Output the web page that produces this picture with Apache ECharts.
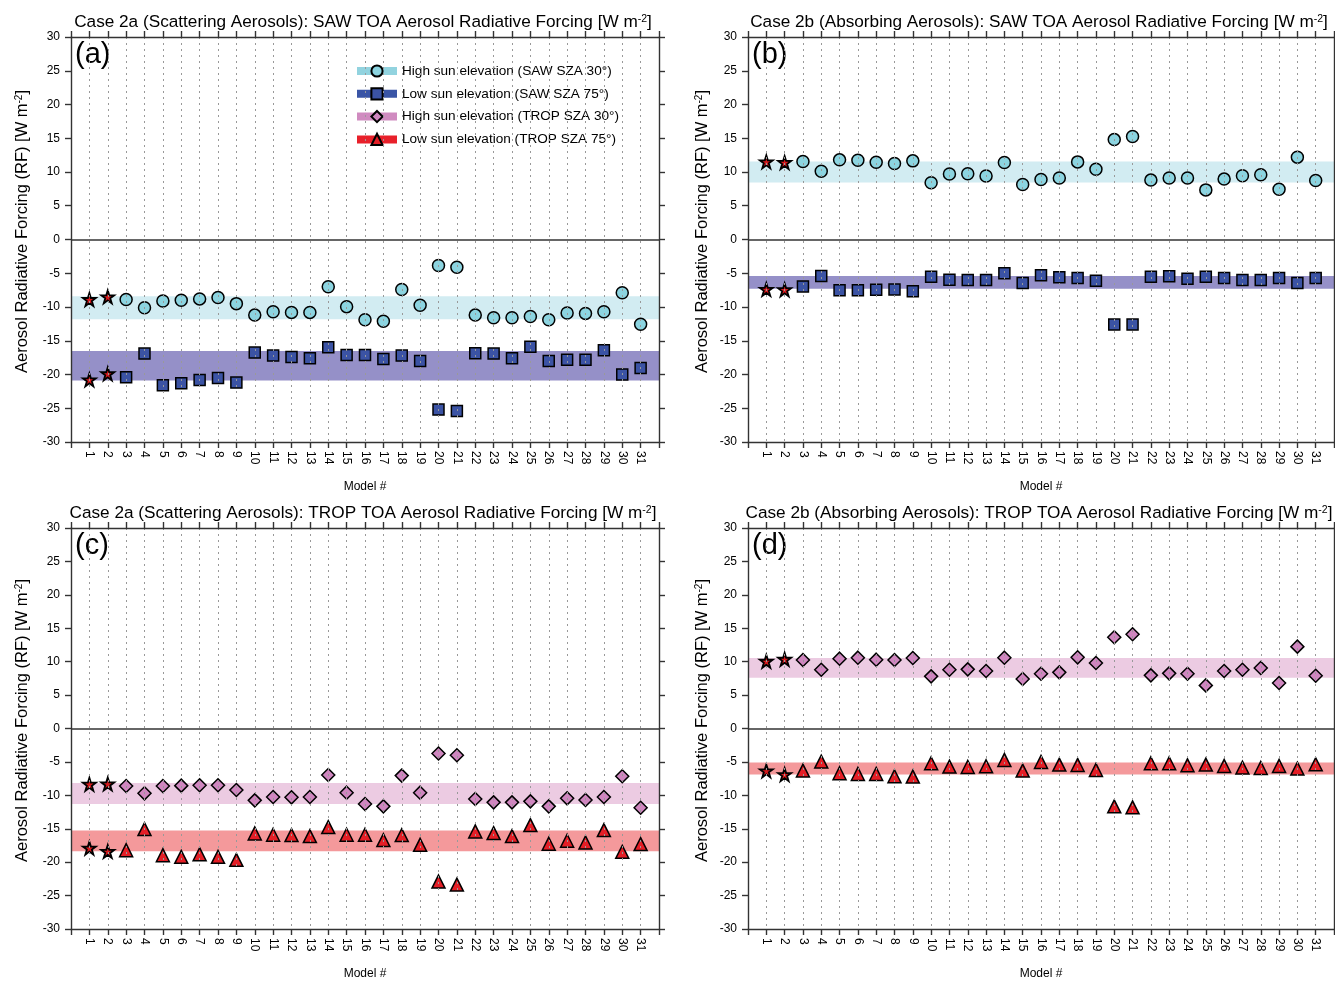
<!DOCTYPE html>
<html><head><meta charset="utf-8">
<script src="https://cdn.jsdelivr.net/npm/echarts@6/dist/echarts.min.js"></script>
<style>html,body{margin:0;padding:0;background:#fff}#c{width:1335px;height:981px}</style>
</head><body><div id="c"></div>
<script>
// ---------- data ----------
const models = [1,2,3,4,5,6,7,8,9,10,11,12,13,14,15,16,17,18,19,20,21,22,23,24,25,26,27,28,29,30,31];
const starModels = [1,2];
const yTicks = [-30,-25,-20,-15,-10,-5,0,5,10,15,20,25,30];

// (a) Case 2a SAW
const saw2aHigh = [-8.9,-8.5,-8.9,-10.1,-9.1,-9.0,-8.8,-8.6,-9.5,-11.2,-10.7,-10.8,-10.8,-7.0,-9.95,-11.9,-12.1,-7.4,-9.75,-3.85,-4.1,-11.2,-11.6,-11.6,-11.4,-11.9,-10.9,-10.95,-10.7,-7.9,-12.55];
const saw2aLow  = [-20.8,-19.9,-20.4,-16.9,-21.6,-21.3,-20.8,-20.5,-21.2,-16.75,-17.2,-17.4,-17.6,-15.95,-17.1,-17.1,-17.7,-17.2,-18.0,-25.2,-25.4,-16.85,-16.9,-17.6,-15.9,-18.0,-17.8,-17.8,-16.4,-20.0,-19.05];
// (b) Case 2b SAW
const saw2bHigh = [11.5,11.4,11.55,10.1,11.8,11.75,11.45,11.25,11.65,8.4,9.7,9.75,9.4,11.4,8.15,8.9,9.1,11.5,10.4,14.8,15.25,8.8,9.1,9.1,7.35,8.95,9.45,9.6,7.45,12.2,8.75];
const saw2bLow  = [-7.4,-7.45,-6.95,-5.4,-7.5,-7.5,-7.45,-7.4,-7.65,-5.5,-5.95,-6.0,-6.0,-5.0,-6.45,-5.3,-5.6,-5.7,-6.1,-12.6,-12.6,-5.5,-5.45,-5.8,-5.5,-5.7,-6.0,-6.0,-5.7,-6.45,-5.7];
// (c) Case 2a TROP
const trop2aHigh = [-8.35,-8.3,-8.6,-9.7,-8.6,-8.55,-8.5,-8.5,-9.2,-10.75,-10.25,-10.3,-10.25,-6.95,-9.6,-11.3,-11.65,-7.05,-9.6,-3.75,-4.0,-10.55,-11.05,-11.05,-10.9,-11.65,-10.45,-10.7,-10.25,-7.15,-11.85];
const trop2aLow  = [-17.9,-18.4,-18.2,-15.05,-18.95,-19.2,-18.8,-19.2,-19.65,-15.7,-15.9,-15.95,-16.1,-14.75,-15.9,-15.9,-16.7,-15.95,-17.4,-22.9,-23.35,-15.4,-15.65,-16.1,-14.45,-17.25,-16.8,-17.05,-15.2,-18.45,-17.3];
// (d) Case 2b TROP
const trop2bHigh = [10.05,10.35,10.25,8.8,10.45,10.6,10.3,10.25,10.55,7.8,8.8,8.85,8.6,10.6,7.4,8.2,8.4,10.65,9.8,13.65,14.1,7.95,8.25,8.2,6.45,8.6,8.8,9.05,6.8,12.25,7.9];
const trop2bLow  = [-6.35,-6.9,-6.3,-4.95,-6.7,-6.8,-6.8,-7.15,-7.2,-5.2,-5.7,-5.75,-5.65,-4.7,-6.3,-5.0,-5.4,-5.45,-6.2,-11.65,-11.8,-5.2,-5.2,-5.5,-5.4,-5.6,-5.85,-5.9,-5.6,-6.0,-5.35];

// shaded bands [low, high]
const bandSaw2aHigh = [-11.8, -8.4];
const bandSaw2aLow  = [-20.9, -16.5];
const bandSaw2bHigh = [8.45, 11.55];
const bandSaw2bLow  = [-7.3, -5.4];
const bandTrop2aHigh = [-11.3, -8.15];
const bandTrop2aLow  = [-18.35, -15.25];
const bandTrop2bHigh = [7.6, 10.55];
const bandTrop2bLow  = [-6.9, -5.1];

const seriesNames = ['High sun elevation (SAW SZA 30°)','Low sun elevation (SAW SZA 75°)','High sun elevation (TROP SZA 30°)','Low sun elevation (TROP SZA 75°)'];
const panelTitles = [
  'Case 2a (Scattering Aerosols): SAW TOA Aerosol Radiative Forcing [W m{sup|-2}]',
  'Case 2b (Absorbing Aerosols): SAW TOA Aerosol Radiative Forcing [W m{sup|-2}]',
  'Case 2a (Scattering Aerosols): TROP TOA Aerosol Radiative Forcing [W m{sup|-2}]',
  'Case 2b (Absorbing Aerosols): TROP TOA Aerosol Radiative Forcing [W m{sup|-2}]'
];
const panelLetters = ['(a)','(b)','(c)','(d)'];
const yName = 'Aerosol Radiative Forcing (RF) [W m{sup|-2}]';
const xName = 'Model #';

// ---------- style ----------
const FONT = 'Liberation Sans, Arial, sans-serif';
const AX = {color:'#333', width:1.4};
const STAR = 'path://M50,2 L61,36 L97,36 L68,57 L79,92 L50,71 L21,92 L32,57 L3,36 L39,36 Z';
const fills = ['#8cd4e0','#3b53a4','#cf86bf','#e41e26'];
const legendBar = ['#92d3df','#3a55a6','#d08bc0','#e8202a'];
const bandColors = ['#d2ecf2','#9590c8','#eccbe2','#f4999b'];
const symbols = ['circle','rect','diamond','triangle'];
const symSizes = [12,11,13,13];
const grids = [
  {left:71, top:37, width:588, height:405},
  {left:748, top:37, width:586, height:405},
  {left:71, top:528, width:588, height:405},
  {left:748, top:528, width:586, height:405}
];
const supRich = {sup:{fontSize:10, lineHeight:8, verticalAlign:'top', fontFamily:FONT, color:'#000'}};

const xAxis = [], yAxis = [];
grids.forEach((g, i) => {
  xAxis.push({gridIndex:i, type:'value', min:0, max:32, interval:1, position:'bottom', z:10,
    axisLine:{show:true, onZero:false, lineStyle:AX},
    axisTick:{show:true, inside:false, length:6, lineStyle:AX},
    axisLabel:{rotate:-90, fontSize:12, color:'#000', fontFamily:FONT, margin:9,
      formatter: v => (models.indexOf(v) >= 0 ? String(v) : '')},
    splitLine:{show:true, lineStyle:{type:[2,4], color:'#999', width:1}},
    name:xName, nameLocation:'middle', nameGap:39,
    nameTextStyle:{fontSize:12, color:'#000', fontFamily:FONT}});
  xAxis.push({gridIndex:i, type:'value', min:0, max:32, interval:1, position:'top', z:10,
    axisLine:{show:true, onZero:false, lineStyle:AX},
    axisTick:{show:true, inside:false, length:6, lineStyle:AX},
    axisLabel:{show:false}, splitLine:{show:false}});
  const lbl = i % 2 === 0 ? 40 : 37;
  yAxis.push({gridIndex:i, type:'value', min:yTicks[0], max:yTicks[yTicks.length-1], interval:5, position:'left', z:10,
    axisLine:{show:true, onZero:false, lineStyle:AX},
    axisTick:{show:true, inside:false, length:6, lineStyle:AX},
    axisLabel:{fontSize:12, color:'#000', fontFamily:FONT, margin:11},
    splitLine:{show:false},
    name:yName, nameLocation:'middle', nameGap:lbl, nameRotate:90,
    nameTextStyle:{fontSize:16.5, color:'#000', fontFamily:FONT, padding:[0,0,0,16], rich:supRich}});
  yAxis.push({gridIndex:i, type:'value', min:yTicks[0], max:yTicks[yTicks.length-1], interval:5, position:'right', z:10,
    axisLine:{show:true, onZero:false, lineStyle:AX},
    axisTick:{show:true, inside:false, length:6, lineStyle:AX},
    axisLabel:{show:false}, splitLine:{show:false}});
});

function mk(kind, g, vals, band) {
  return {
    name: seriesNames[kind], type:'line', xAxisIndex:2*g, yAxisIndex:2*g,
    data: models.map((m, i) => starModels.indexOf(m) >= 0
      ? {value:[m, vals[i]], symbol:STAR, symbolSize:13, itemStyle:{color:'#d7191c', borderColor:'#000', borderWidth:1.8}}
      : [m, vals[i]]),
    symbol: symbols[kind], symbolSize: symSizes[kind], showSymbol:true, showAllSymbol:true,
    lineStyle:{opacity:0, width:0},
    itemStyle:{color:fills[kind], borderColor:'#000', borderWidth:1.5},
    emphasis:{disabled:true}, silent:true, animation:false, z:3,
    markArea:{silent:true, animation:false, itemStyle:{color:bandColors[kind]},
      data:[[{yAxis:band[0]},{yAxis:band[1]}]]}
  };
}
function zeroLine(g) {
  return {name:'zero'+g, type:'line', xAxisIndex:2*g, yAxisIndex:2*g, data:[], silent:true, animation:false, z:4,
    markLine:{silent:true, animation:false, symbol:['none','none'], label:{show:false},
      lineStyle:{color:'#333', width:1.5, type:'solid'}, data:[{yAxis:0}]}};
}

const series = [
  mk(0, 0, saw2aHigh, bandSaw2aHigh), mk(1, 0, saw2aLow, bandSaw2aLow), zeroLine(0),
  mk(0, 1, saw2bHigh, bandSaw2bHigh), mk(1, 1, saw2bLow, bandSaw2bLow), zeroLine(1),
  mk(2, 2, trop2aHigh, bandTrop2aHigh), mk(3, 2, trop2aLow, bandTrop2aLow), zeroLine(2),
  mk(2, 3, trop2bHigh, bandTrop2bHigh), mk(3, 3, trop2bLow, bandTrop2bLow), zeroLine(3)
];

const title = [];
grids.forEach((g, i) => {
  title.push({text: panelTitles[i], left: g.left + g.width/2 - 2, top: g.top - 23, textAlign:'center', padding:0,
    textStyle:{fontSize:17.2, fontWeight:'normal', color:'#000', fontFamily:FONT, rich:{sup:{fontSize:10.5, lineHeight:9, verticalAlign:'top', fontFamily:FONT, color:'#000'}}}});
  title.push({text: panelLetters[i], left: g.left + 4, top: g.top + 3, padding:0,
    textStyle:{fontSize:29, fontWeight:'normal', color:'#000', fontFamily:FONT}});
});

const option = {
  backgroundColor:'#fff',
  animation:false,
  title,
  grid: grids,
  xAxis, yAxis, series,
  legend:{
    left:353, top:64, orient:'vertical', itemWidth:40, itemHeight:14, itemGap:8.8, padding:0,
    textStyle:{fontSize:13.6, color:'#000', fontFamily:FONT},
    selectedMode:false,
    data: seriesNames.map((n, k) => ({name:n, lineStyle:{color:legendBar[k], width:8, opacity:1}}))
  }
};
const chart = echarts.init(document.getElementById('c'), null, {renderer:'canvas'});
chart.setOption(option);
</script></body></html>
